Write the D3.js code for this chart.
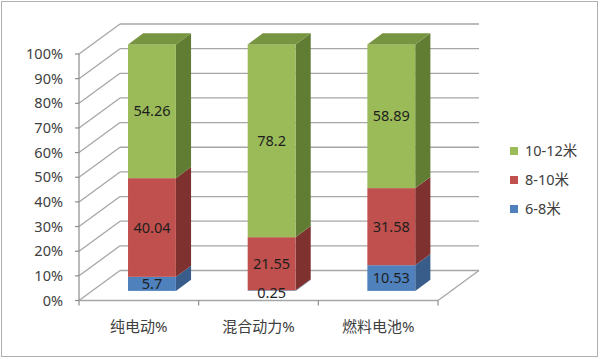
<!DOCTYPE html>
<html><head><meta charset="utf-8">
<script src="https://cdn.jsdelivr.net/npm/d3@7"></script>
<style>body{margin:0;background:#fff}svg{display:block}text{font-family:"Noto Sans","Noto Sans CJK SC",sans-serif}</style>
</head><body>
<svg id="c" width="600" height="359"></svg>
<script>
const categories = ["纯电动%", "混合动力%", "燃料电池%"];
const seriesNames = ["6-8米", "8-10米", "10-12米"];
const s68 = [5.7, 0.25, 10.53];
const s810 = [40.04, 21.55, 31.58];
const s1012 = [54.26, 78.2, 58.89];
const yTicks = [0,0.1,0.2,0.3,0.4,0.5,0.6,0.7,0.8,0.9,1];

const frontCol = {"6-8米":"#4F81BD","8-10米":"#C0504D","10-12米":"#9BBB59"};
const sideCol = {"6-8米":"#385D8A","8-10米":"#7E312F","10-12米":"#617D34"};
const topCol = {"6-8米":"#4572A7","8-10米":"#A54441","10-12米":"#779540"};

const svg = d3.select("#c");
svg.append("rect").attr("x",1.5).attr("y",1.5).attr("width",596).attr("height",355)
  .attr("fill","#fff").attr("stroke","#B0B0B0").attr("stroke-width",1);

const x0 = 79, x1 = 438;
const DX = 41, DY = -30;
const y = d3.scaleLinear().domain([0,1]).range([300.5,54]);
const x = d3.scaleBand().domain(categories).range([x0,x1]).paddingInner(0.6).paddingOuter(0.3);
const fF = 0.32, fD = 0.37;
const bx = DX*fF, by = DY*fF, sx = DX*fD, sy = DY*fD;

const grid = svg.append("g").attr("stroke","#A6A6A6").attr("stroke-width",1.3).attr("fill","none");
yTicks.forEach(t=>{
  const yy = y(t);
  grid.append("line").attr("x1",x0).attr("y1",yy).attr("x2",x0+DX).attr("y2",yy+DY);
  grid.append("line").attr("x1",x0+DX).attr("y1",yy+DY).attr("x2",x1+DX).attr("y2",yy+DY);
});
grid.append("line").attr("x1",x0).attr("y1",y(0)).attr("x2",x1).attr("y2",y(0));
grid.append("line").attr("x1",x1).attr("y1",y(0)).attr("x2",x1+DX).attr("y2",y(0)+DY);

const ax = svg.append("g").attr("stroke","#8C8C8C").attr("stroke-width",1.2);
ax.append("line").attr("x1",x0).attr("y1",y(1)).attr("x2",x0).attr("y2",y(0));
yTicks.forEach(t=>ax.append("line").attr("x1",x0-4).attr("x2",x0).attr("y1",y(t)).attr("y2",y(t)));
const catTicks = [x0, ...categories.map((c,i)=> x0 + (i+1)*(x1-x0)/categories.length)];
catTicks.forEach(v=>ax.append("line").attr("x1",v).attr("x2",v).attr("y1",y(0)).attr("y2",y(0)+5));

svg.append("g").selectAll("text").data(yTicks).join("text")
  .attr("x",63).attr("y",d=>y(d)).attr("dy","0.35em").attr("text-anchor","end")
  .attr("font-size",14.5).attr("fill","#404040").text(d=>Math.round(d*100)+"%");

svg.append("g").selectAll("text").data(categories).join("text")
  .attr("x",d=>x(d)+x.bandwidth()/2).attr("y",327).attr("dy","0.35em").attr("text-anchor","middle")
  .attr("font-size",15).attr("fill","#404040").text(d=>d);

const rows = categories.map((c,i)=>({cat:c,"6-8米":s68[i],"8-10米":s810[i],"10-12米":s1012[i]}));
const stack = d3.stack().keys(seriesNames).offset(d3.stackOffsetExpand);
const layers = stack(rows);

const bars = svg.append("g");
categories.forEach((c,i)=>{
  const L = x(c)+bx, R = L + x.bandwidth();
  layers.forEach((layer,k)=>{
    const key = layer.key;
    const y0 = y(layer[i][0])+by, y1 = y(layer[i][1])+by;
    bars.append("polygon").attr("points",[[R,y1],[R+sx,y1+sy],[R+sx,y0+sy],[R,y0]].join(" "))
      .attr("fill",sideCol[key]);
    bars.append("rect").attr("x",L).attr("y",y1).attr("width",R-L).attr("height",Math.max(0,y0-y1))
      .attr("fill",frontCol[key]);
    if(k===layers.length-1){
      bars.append("polygon").attr("points",[[L,y1],[L+sx,y1+sy],[R+sx,y1+sy],[R,y1]].join(" "))
        .attr("fill",topCol[key]);
    }
  });
  layers.forEach(layer=>{
    const y0 = y(layer[i][0])+by, y1 = y(layer[i][1])+by;
    bars.append("text").attr("x",(L+R)/2).attr("y",(y0+y1)/2 + (y0-y1<4?2:0)).attr("dy","0.35em")
      .attr("text-anchor","middle").attr("font-size",14.5).attr("fill","#1E1E1E")
      .text(layer[i].data[layer.key]);
  });
});

const legItems = seriesNames.slice().reverse();
const lg = svg.append("g");
legItems.forEach((k,j)=>{
  const ly = 151 + j*29;
  lg.append("rect").attr("x",510).attr("y",ly-4).attr("width",8).attr("height",8).attr("fill",frontCol[k]);
  lg.append("text").attr("x",525).attr("y",ly).attr("dy","0.35em").attr("font-size",14.5)
    .attr("fill","#404040").text(k);
});
</script>
</body></html>
